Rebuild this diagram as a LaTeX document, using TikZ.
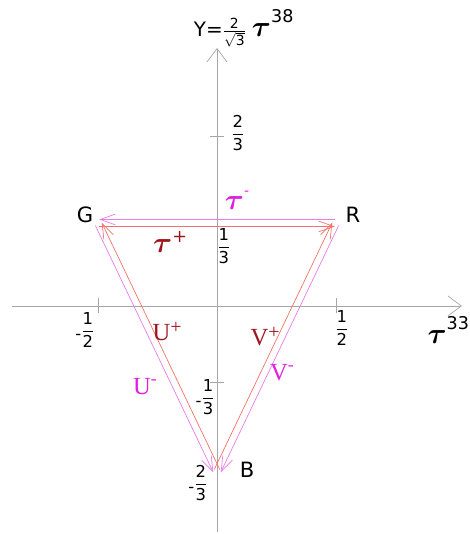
\documentclass[tikz,border=0pt]{standalone}
\usepackage{amsmath}
\usepackage{fontspec}
\setmainfont{DejaVu Sans}
\newfontfamily\uvfont{Liberation Serif}
\usepackage{tikz}
\usetikzlibrary{arrows.meta,calc}
\usepackage{xcolor}
\definecolor{pinkline}{HTML}{E67EE6}
\definecolor{redline}{HTML}{F07468}
\definecolor{magtext}{HTML}{E01EE0}
\definecolor{redtext}{HTML}{A0141E}
\definecolor{axisgray}{HTML}{A6A6A6}
\newcommand{\fr}[2]{$\genfrac{}{}{0.3pt}{0}{\text{#1}}{\text{#2}}$}
\newcommand{\tauBig}[1]{{\fontsize{#1}{#1}\selectfont$\boldsymbol{\tau}$}}

\begin{document}
\begin{tikzpicture}[x=7.14cm,y=7.47cm,
  axis/.style={draw=axisgray, line width=0.6pt},
  flow/.style={line width=0.6pt, -{Straight Barb[length=4.5mm,width=3.2mm]}, shorten >=1pt, shorten <=1pt},
  vlab/.style={inner sep=0pt, font=\fontsize{18}{20}\selectfont},
  tlab/.style={inner sep=0pt, font=\fontsize{14}{16}\selectfont},
  uvlab/.style={inner sep=0pt, font=\uvfont\fontsize{21}{23}\selectfont}]
  \useasboundingbox (-0.912,-0.916) rectangle (1.059,1.229);
  % axes
  \coordinate (xl) at (-0.861,0);
  \coordinate (xr) at (1.029,0);
  \coordinate (yb) at (0,-0.908);
  \coordinate (yt) at (0,1.036);
  \draw[axis, -{Straight Barb[length=4mm,width=6mm]}] (xl) -- (xr);
  \draw[axis, -{Straight Barb[length=4mm,width=6mm]}] (yb) -- (yt);
  \foreach \x in {-0.5,0.5}
    \draw[axis] (\x,-0.03) -- (\x,0.03);
  \foreach \y in {0.68,-0.305}
    \draw[axis] (-0.03,\y) -- (0.03,\y);
  % tick labels
  \node[tlab] (xm) at (-0.555,-0.096) {\raisebox{-3pt}{-}\fr12};
  \node[tlab] (xp) at (0.525,-0.088) {\fr12};
  \node[tlab] (y1) at (0.029,0.241) {\fr13};
  \node[tlab] (y2) at (0.088,0.695) {\fr23};
  \node[tlab] (ym1) at (-0.05,-0.365) {\raisebox{-3pt}{-}\fr13};
  \node[tlab] (ym2) at (-0.08,-0.711) {\raisebox{-3pt}{-}\fr23};
  % axis names
  \node[inner sep=0pt] (T33) at (0.972,-0.096) {\tauBig{32}\raisebox{12pt}{\fontsize{15}{17}\selectfont 33}};
  \node[inner sep=0pt] (Y) at (0.112,1.116) {\fontsize{17}{19}\selectfont Y=$\genfrac{}{}{0.3pt}{1}{\text{2}}{\sqrt{\text{3}}}$\hspace{5pt}\tauBig{32}\raisebox{12pt}{\fontsize{15}{17}\selectfont 38}};
  % triangle corners
  \coordinate (vG) at (-0.5,1/3);
  \coordinate (vR) at (0.5,1/3);
  \coordinate (vB) at (0,-2/3);
  \node[vlab] (G) at (-0.555,0.365) {G};
  \node[vlab] (R) at (0.571,0.365) {R};
  \node[vlab] (B) at (0.126,-0.659) {B};
  % paired arrows along the sides
  \foreach \a/\b/\s/\t/\c in {vR/vG/-90/90/pinkline, vG/vR/-90/90/redline,
      vB/vG/-90/90/redline, vG/vB/-90/90/pinkline,
      vB/vR/90/-90/redline, vR/vB/90/-90/pinkline}
    \draw[flow, \c] ($(\a)!3pt!\s:(\b)$) -- ($(\b)!3pt!\t:(\a)$);
  % arrow names
  \node[inner sep=0pt, text=magtext] (tm) at (0.084,0.426) {\tauBig{32}\raisebox{12pt}{\fontsize{12}{12}\selectfont -}};
  \node[inner sep=0pt, text=redtext] (tp) at (-0.197,0.257) {\tauBig{28}\raisebox{9pt}{\fontsize{15}{15}\selectfont +}};
  \node[uvlab, text=redtext] (Up) at (-0.210,-0.104) {U\raisebox{6pt}{\fontsize{17}{17}\selectfont +}};
  \node[uvlab, text=magtext] (Um) at (-0.303,-0.325) {U\raisebox{9pt}{\fontsize{15}{15}\selectfont -}};
  \node[uvlab, text=redtext] (Vp) at (0.202,-0.124) {V\raisebox{6pt}{\fontsize{17}{17}\selectfont +}};
  \node[uvlab, text=magtext] (Vm) at (0.273,-0.269) {V\raisebox{9pt}{\fontsize{15}{15}\selectfont -}};
\end{tikzpicture}
\end{document}
